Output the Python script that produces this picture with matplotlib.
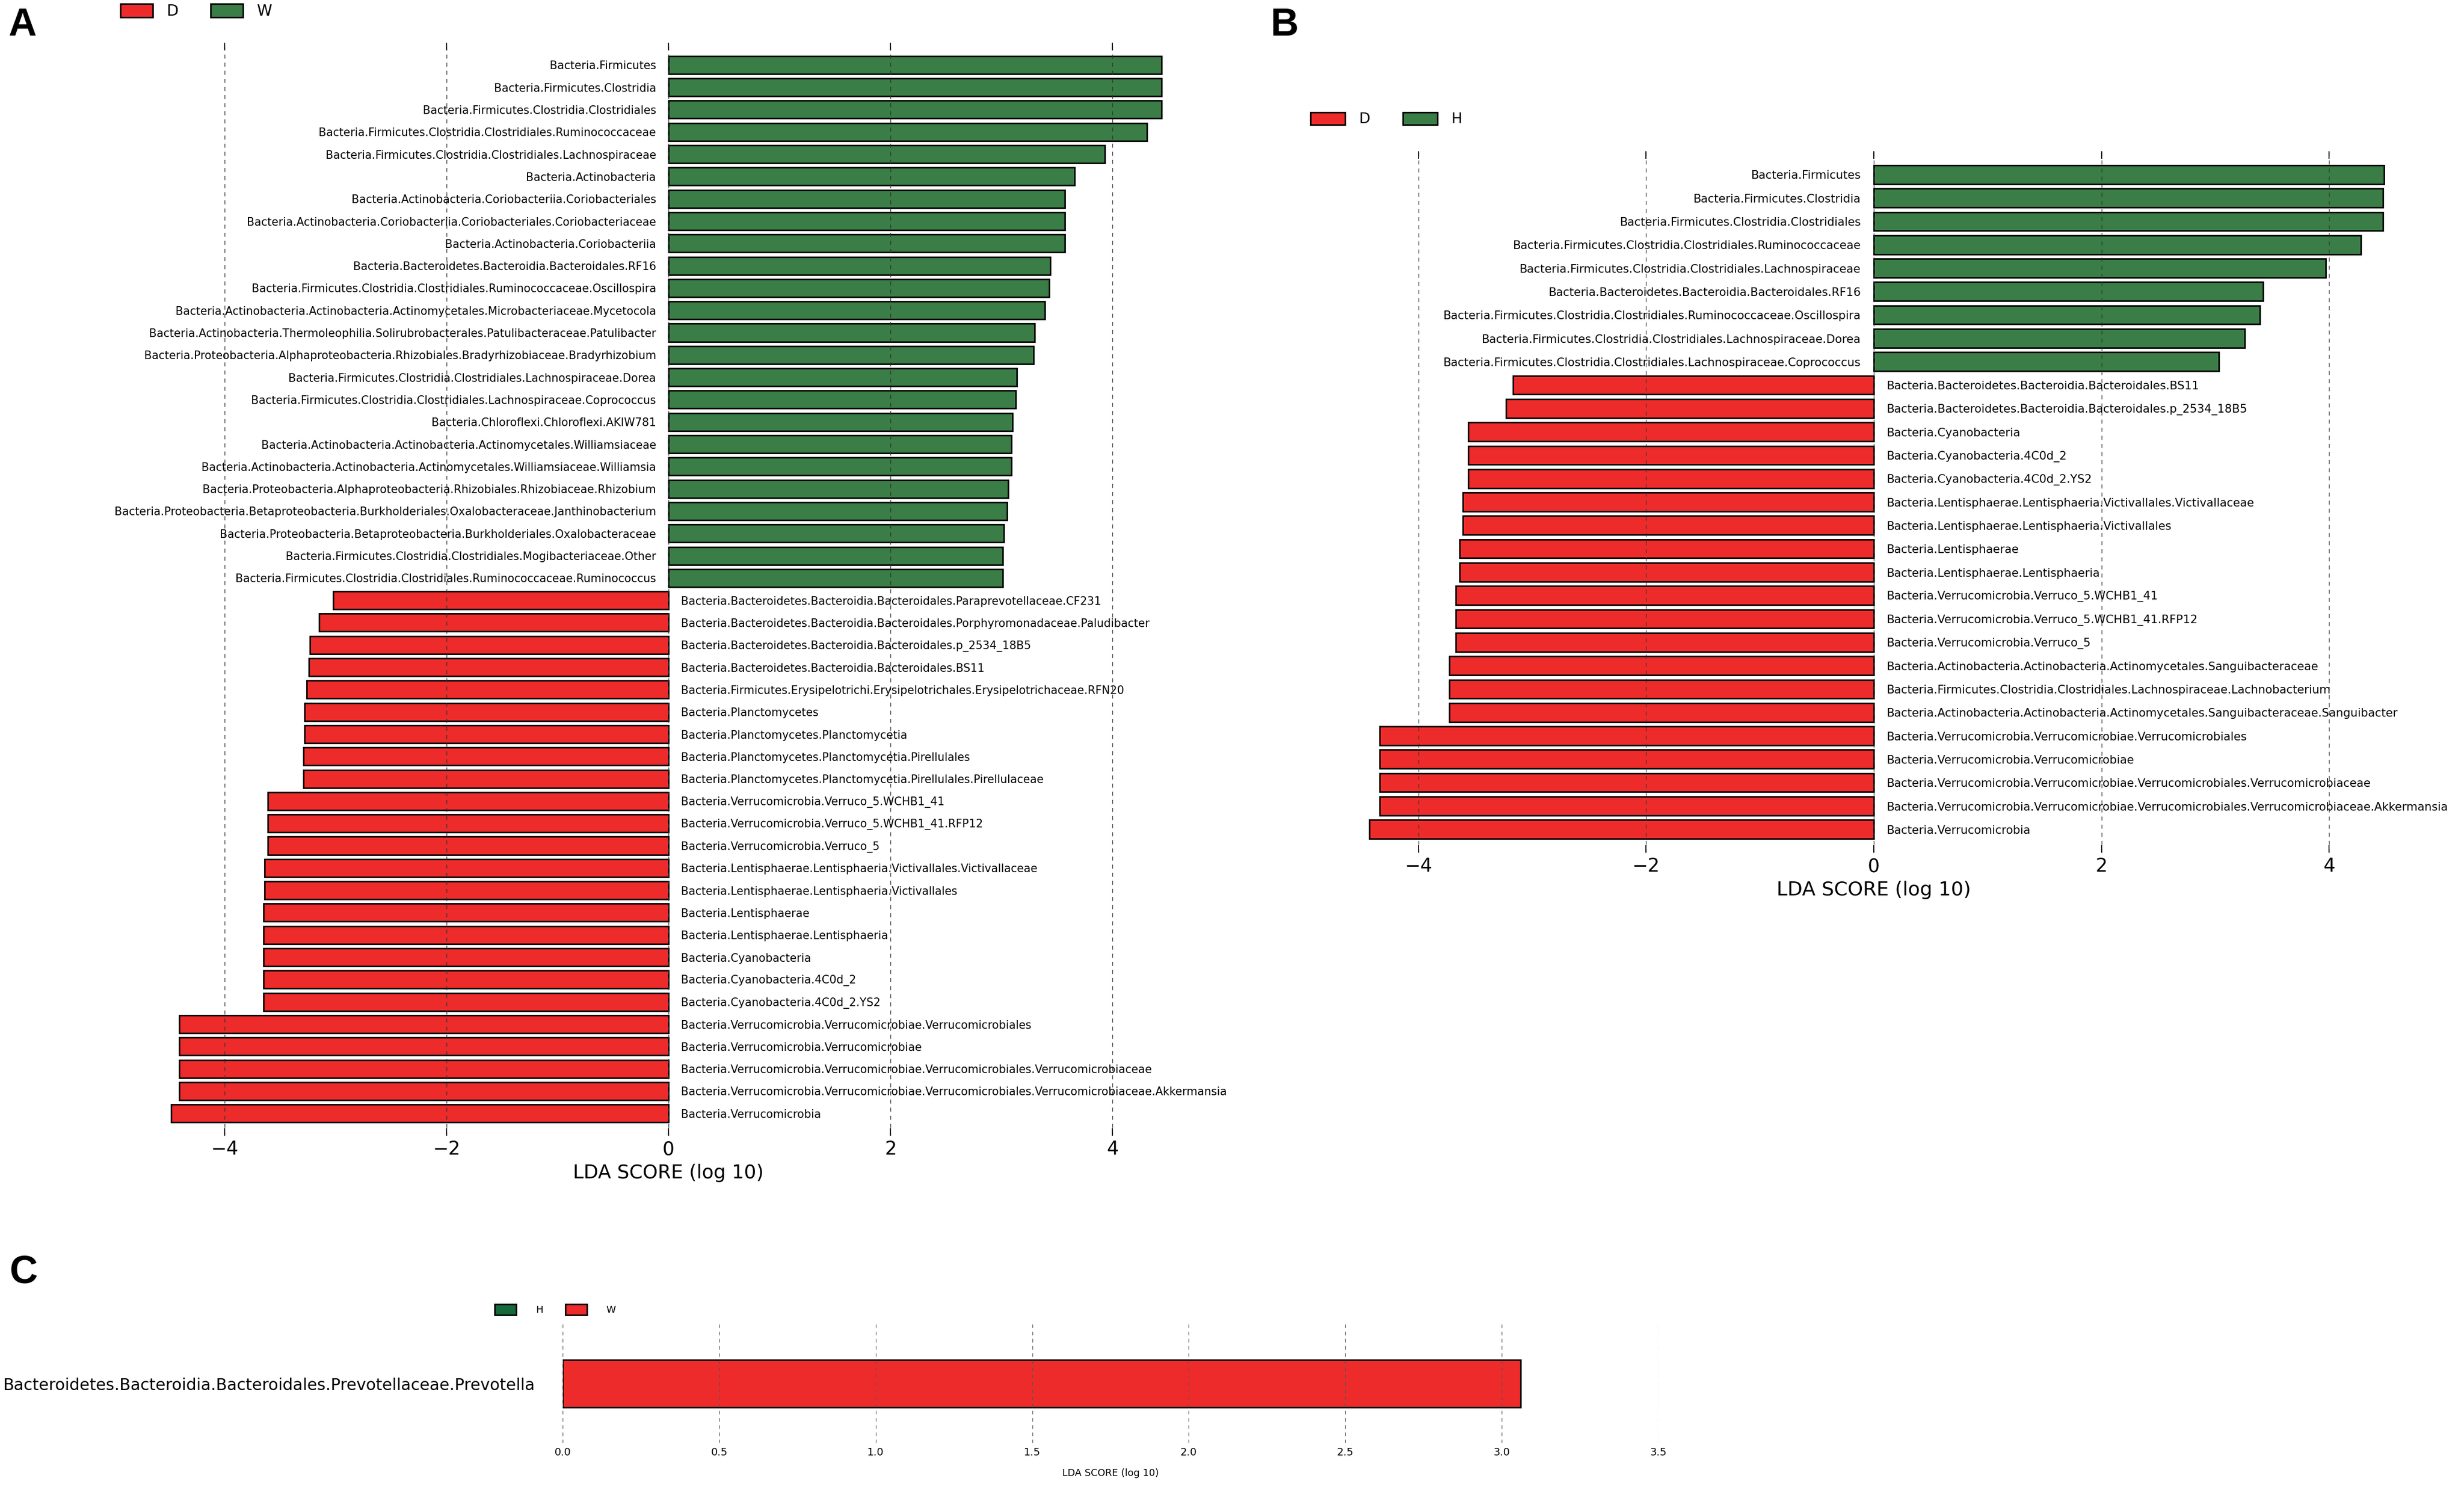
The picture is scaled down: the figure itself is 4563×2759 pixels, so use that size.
import numpy as np
import matplotlib
matplotlib.use("Agg")
import matplotlib.pyplot as plt
from matplotlib.patches import Patch
from matplotlib.ticker import FormatStrFormatter

plt.rcParams['font.family'] = ['DejaVu Sans']

# ---------------- data ----------------
a_groups = ["D", "W"]
a_labels = [
    "Bacteria.Firmicutes",
    "Bacteria.Firmicutes.Clostridia",
    "Bacteria.Firmicutes.Clostridia.Clostridiales",
    "Bacteria.Firmicutes.Clostridia.Clostridiales.Ruminococcaceae",
    "Bacteria.Firmicutes.Clostridia.Clostridiales.Lachnospiraceae",
    "Bacteria.Actinobacteria",
    "Bacteria.Actinobacteria.Coriobacteriia.Coriobacteriales",
    "Bacteria.Actinobacteria.Coriobacteriia.Coriobacteriales.Coriobacteriaceae",
    "Bacteria.Actinobacteria.Coriobacteriia",
    "Bacteria.Bacteroidetes.Bacteroidia.Bacteroidales.RF16",
    "Bacteria.Firmicutes.Clostridia.Clostridiales.Ruminococcaceae.Oscillospira",
    "Bacteria.Actinobacteria.Actinobacteria.Actinomycetales.Microbacteriaceae.Mycetocola",
    "Bacteria.Actinobacteria.Thermoleophilia.Solirubrobacterales.Patulibacteraceae.Patulibacter",
    "Bacteria.Proteobacteria.Alphaproteobacteria.Rhizobiales.Bradyrhizobiaceae.Bradyrhizobium",
    "Bacteria.Firmicutes.Clostridia.Clostridiales.Lachnospiraceae.Dorea",
    "Bacteria.Firmicutes.Clostridia.Clostridiales.Lachnospiraceae.Coprococcus",
    "Bacteria.Chloroflexi.Chloroflexi.AKIW781",
    "Bacteria.Actinobacteria.Actinobacteria.Actinomycetales.Williamsiaceae",
    "Bacteria.Actinobacteria.Actinobacteria.Actinomycetales.Williamsiaceae.Williamsia",
    "Bacteria.Proteobacteria.Alphaproteobacteria.Rhizobiales.Rhizobiaceae.Rhizobium",
    "Bacteria.Proteobacteria.Betaproteobacteria.Burkholderiales.Oxalobacteraceae.Janthinobacterium",
    "Bacteria.Proteobacteria.Betaproteobacteria.Burkholderiales.Oxalobacteraceae",
    "Bacteria.Firmicutes.Clostridia.Clostridiales.Mogibacteriaceae.Other",
    "Bacteria.Firmicutes.Clostridia.Clostridiales.Ruminococcaceae.Ruminococcus",
    "Bacteria.Bacteroidetes.Bacteroidia.Bacteroidales.Paraprevotellaceae.CF231",
    "Bacteria.Bacteroidetes.Bacteroidia.Bacteroidales.Porphyromonadaceae.Paludibacter",
    "Bacteria.Bacteroidetes.Bacteroidia.Bacteroidales.p_2534_18B5",
    "Bacteria.Bacteroidetes.Bacteroidia.Bacteroidales.BS11",
    "Bacteria.Firmicutes.Erysipelotrichi.Erysipelotrichales.Erysipelotrichaceae.RFN20",
    "Bacteria.Planctomycetes",
    "Bacteria.Planctomycetes.Planctomycetia",
    "Bacteria.Planctomycetes.Planctomycetia.Pirellulales",
    "Bacteria.Planctomycetes.Planctomycetia.Pirellulales.Pirellulaceae",
    "Bacteria.Verrucomicrobia.Verruco_5.WCHB1_41",
    "Bacteria.Verrucomicrobia.Verruco_5.WCHB1_41.RFP12",
    "Bacteria.Verrucomicrobia.Verruco_5",
    "Bacteria.Lentisphaerae.Lentisphaeria.Victivallales.Victivallaceae",
    "Bacteria.Lentisphaerae.Lentisphaeria.Victivallales",
    "Bacteria.Lentisphaerae",
    "Bacteria.Lentisphaerae.Lentisphaeria",
    "Bacteria.Cyanobacteria",
    "Bacteria.Cyanobacteria.4C0d_2",
    "Bacteria.Cyanobacteria.4C0d_2.YS2",
    "Bacteria.Verrucomicrobia.Verrucomicrobiae.Verrucomicrobiales",
    "Bacteria.Verrucomicrobia.Verrucomicrobiae",
    "Bacteria.Verrucomicrobia.Verrucomicrobiae.Verrucomicrobiales.Verrucomicrobiaceae",
    "Bacteria.Verrucomicrobia.Verrucomicrobiae.Verrucomicrobiales.Verrucomicrobiaceae.Akkermansia",
    "Bacteria.Verrucomicrobia",
]
a_scores = [
    4.44, 4.44, 4.44, 4.31, 3.93, 3.66, 3.57, 3.57, 3.57, 3.44, 3.43, 3.39,
    3.30, 3.29, 3.14, 3.13, 3.10, 3.09, 3.09, 3.06, 3.05, 3.02, 3.01, 3.01,
    -3.02, -3.15, -3.23, -3.24, -3.26, -3.28, -3.28, -3.29, -3.29, -3.61,
    -3.61, -3.61, -3.64, -3.64, -3.65, -3.65, -3.65, -3.65, -3.65, -4.41,
    -4.41, -4.41, -4.41, -4.48,
]

b_groups = ["D", "H"]
b_labels = [
    "Bacteria.Firmicutes",
    "Bacteria.Firmicutes.Clostridia",
    "Bacteria.Firmicutes.Clostridia.Clostridiales",
    "Bacteria.Firmicutes.Clostridia.Clostridiales.Ruminococcaceae",
    "Bacteria.Firmicutes.Clostridia.Clostridiales.Lachnospiraceae",
    "Bacteria.Bacteroidetes.Bacteroidia.Bacteroidales.RF16",
    "Bacteria.Firmicutes.Clostridia.Clostridiales.Ruminococcaceae.Oscillospira",
    "Bacteria.Firmicutes.Clostridia.Clostridiales.Lachnospiraceae.Dorea",
    "Bacteria.Firmicutes.Clostridia.Clostridiales.Lachnospiraceae.Coprococcus",
    "Bacteria.Bacteroidetes.Bacteroidia.Bacteroidales.BS11",
    "Bacteria.Bacteroidetes.Bacteroidia.Bacteroidales.p_2534_18B5",
    "Bacteria.Cyanobacteria",
    "Bacteria.Cyanobacteria.4C0d_2",
    "Bacteria.Cyanobacteria.4C0d_2.YS2",
    "Bacteria.Lentisphaerae.Lentisphaeria.Victivallales.Victivallaceae",
    "Bacteria.Lentisphaerae.Lentisphaeria.Victivallales",
    "Bacteria.Lentisphaerae",
    "Bacteria.Lentisphaerae.Lentisphaeria",
    "Bacteria.Verrucomicrobia.Verruco_5.WCHB1_41",
    "Bacteria.Verrucomicrobia.Verruco_5.WCHB1_41.RFP12",
    "Bacteria.Verrucomicrobia.Verruco_5",
    "Bacteria.Actinobacteria.Actinobacteria.Actinomycetales.Sanguibacteraceae",
    "Bacteria.Firmicutes.Clostridia.Clostridiales.Lachnospiraceae.Lachnobacterium",
    "Bacteria.Actinobacteria.Actinobacteria.Actinomycetales.Sanguibacteraceae.Sanguibacter",
    "Bacteria.Verrucomicrobia.Verrucomicrobiae.Verrucomicrobiales",
    "Bacteria.Verrucomicrobia.Verrucomicrobiae",
    "Bacteria.Verrucomicrobia.Verrucomicrobiae.Verrucomicrobiales.Verrucomicrobiaceae",
    "Bacteria.Verrucomicrobia.Verrucomicrobiae.Verrucomicrobiales.Verrucomicrobiaceae.Akkermansia",
    "Bacteria.Verrucomicrobia",
]
b_scores = [
    4.48, 4.47, 4.47, 4.28, 3.97, 3.42, 3.39, 3.26, 3.03,
    -3.17, -3.23, -3.56, -3.56, -3.56, -3.61, -3.61, -3.64, -3.64,
    -3.67, -3.67, -3.67, -3.73, -3.73, -3.73, -4.34, -4.34, -4.34,
    -4.34, -4.43,
]

c_groups = ["H", "W"]
c_labels = ["Bacteroidetes.Bacteroidia.Bacteroidales.Prevotellaceae.Prevotella"]
c_scores = [3.06]
c_ticks = [0.0, 0.5, 1.0, 1.5, 2.0, 2.5, 3.0, 3.5]

# ---------------- style ----------------
RED = '#EE2B2B'
GREEN = '#3A7D46'
GREEN_C = '#16693A'
W, H = 4563, 2759
DPI = 100

fig = plt.figure(figsize=(W / DPI, H / DPI), dpi=DPI)


def fx(px):
    return px / W


def fy(py):
    return 1 - py / H


def lefse_panel(rect, labels, scores, fs_lab, fs_tick, fs_xlabel):
    ax = fig.add_axes(rect)
    n = len(labels)
    ypos = np.arange(n)[::-1]
    colors = [GREEN if s > 0 else RED for s in scores]
    ax.barh(ypos, scores, height=0.8, color=colors, edgecolor='black',
            linewidth=2.0, zorder=1)
    off = max(abs(s) for s in scores) / 40.0
    for y, s, lab in zip(ypos, scores, labels):
        if s > 0:
            ax.text(-off, y - 0.05, lab, ha='right', va='center', fontsize=fs_lab, zorder=4)
        else:
            ax.text(off, y - 0.05, lab, ha='left', va='center', fontsize=fs_lab, zorder=4)
    ax.set_ylim(-1, n)
    ax.set_xlim(-4.7, 4.7)
    ax.set_xticks([-4, -2, 0, 2, 4])
    ax.set_yticks([])
    for sp in ax.spines.values():
        sp.set_visible(False)
    ax.set_axisbelow(False)
    ax.xaxis.grid(True, linestyle=(0, (6, 6)), color='#333333', linewidth=0.9)
    ax.tick_params(axis='x', direction='in', top=True, bottom=True, length=10,
                   width=1.3, pad=6, labelsize=fs_tick, colors='black')
    ax.set_xlabel('LDA SCORE (log 10)', fontsize=fs_xlabel, labelpad=7)
    return ax


# Panel A
axA = lefse_panel([fx(272), fy(2103), fx(1932), 2024 / H], a_labels, a_scores,
                  14.8, 25, 25.5)
# Panel B
axB = lefse_panel([fx(2479), fy(1579), fx(1982), 1299 / H], b_labels, b_scores,
                  15.3, 25, 26)

# Panel C
axC = fig.add_axes([fx(1042), fy(2672), fx(2029), 220 / H])
axC.barh([0], c_scores, height=0.8, color=RED, edgecolor='black', linewidth=2.0, zorder=1)
axC.set_xlim(0, 3.5)
axC.set_ylim(-1, 1)
axC.set_xticks(c_ticks)
axC.xaxis.set_major_formatter(FormatStrFormatter('%.1f'))
axC.set_yticks([0])
axC.set_yticklabels(c_labels, fontsize=21.5)
axC.tick_params(axis='y', length=0, pad=37)
axC.tick_params(axis='x', length=0, pad=6, labelsize=14)
for sp in axC.spines.values():
    sp.set_visible(False)
axC.set_axisbelow(False)
axC.xaxis.grid(True, linestyle=(0, (6, 6)), color='#555555', linewidth=0.8)
axC.set_xlabel('LDA SCORE (log 10)', fontsize=13, labelpad=14)

# Legends
def add_legend(groups, colors, x_left, y_center, fs, hl, hh, htp, cs):
    handles = [Patch(facecolor=c, edgecolor='black', linewidth=2.0) for c in colors]
    fig.legend(handles, groups, loc='center left', bbox_to_anchor=(fx(x_left), fy(y_center)),
               ncol=len(groups), frameon=False, fontsize=fs, borderpad=0, borderaxespad=0,
               handlelength=hl, handleheight=hh, handletextpad=htp, columnspacing=cs)

add_legend(a_groups, [RED, GREEN], 223, 21, 20.5, 2.1, 1.0, 0.9, 2.1)
add_legend(b_groups, [RED, GREEN], 2427, 221, 19.5, 2.35, 0.95, 0.95, 2.25)
add_legend(c_groups, [GREEN_C, RED], 916, 2425, 13, 2.2, 1.4, 2.0, 2.3)

# Panel letters
fig.text(fx(15), fy(13), 'A', ha='left', va='top', fontsize=52, fontweight='bold',
         family=['Liberation Sans', 'DejaVu Sans'])
fig.text(fx(2352), fy(13), 'B', ha='left', va='top', fontsize=52, fontweight='bold',
         family=['Liberation Sans', 'DejaVu Sans'])
fig.text(fx(18), fy(2323), 'C', ha='left', va='top', fontsize=52, fontweight='bold',
         family=['Liberation Sans', 'DejaVu Sans'])

fig.savefig('out.png', dpi=DPI)
